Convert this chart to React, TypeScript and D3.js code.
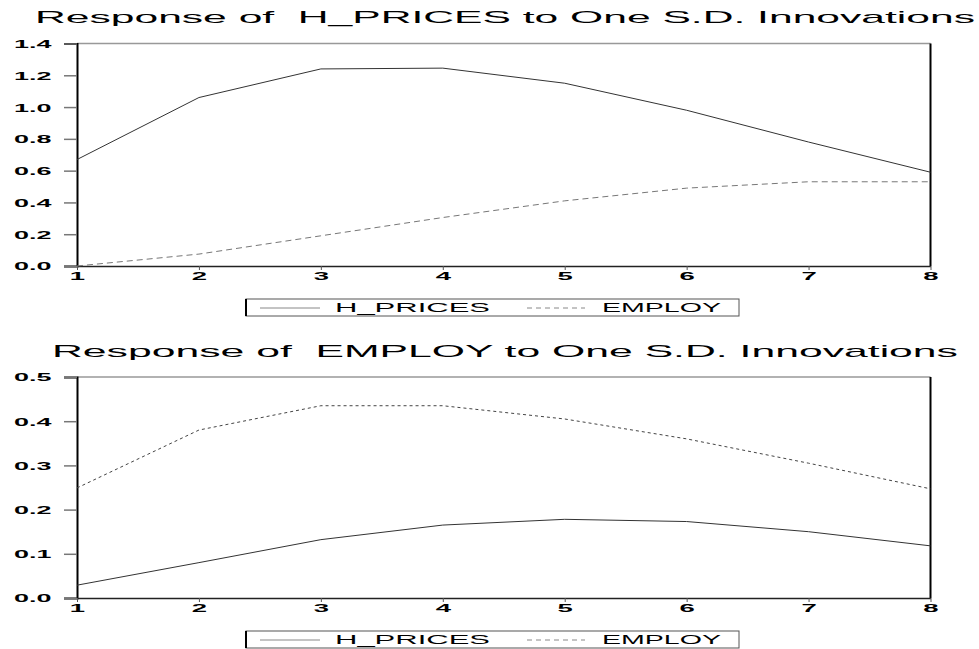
import React, { useEffect, useRef } from 'react';
import * as d3 from 'd3';

// periods
const periods = [1, 2, 3, 4, 5, 6, 7, 8];

// Response of H_PRICES
const hpHprices = [0.67, 1.06, 1.24, 1.245, 1.15, 0.98, 0.78, 0.59];
const hpEmploy = [0.0, 0.075, 0.19, 0.305, 0.41, 0.49, 0.53, 0.53];
const hpTicks = [0.0, 0.2, 0.4, 0.6, 0.8, 1.0, 1.2, 1.4];

// Response of EMPLOY
const emHprices = [0.029, 0.08, 0.132, 0.165, 0.178, 0.173, 0.15, 0.118];
const emEmploy = [0.249, 0.38, 0.435, 0.435, 0.405, 0.36, 0.305, 0.247];
const emTicks = [0.0, 0.1, 0.2, 0.3, 0.4, 0.5];

const seriesNames = ['H_PRICES', 'EMPLOY'];

const FONT = '"Liberation Sans", Arial, sans-serif';

const panels = [
  {
    title: 'Response of  H_PRICES to One S.D. Innovations',
    titleX: 35, titleLen: 940, titleY: 23,
    top: 43.5, bottom: 266, max: 1.4, ticks: hpTicks,
    hp: hpHprices, em: hpEmploy, legendY: 299,
    empDash: '6,4', empColor: '#777'
  },
  {
    title: 'Response of  EMPLOY to One S.D. Innovations',
    titleX: 52, titleLen: 906, titleY: 357,
    top: 377, bottom: 598, max: 0.5, ticks: emTicks,
    hp: emHprices, em: emEmploy, legendY: 631,
    empDash: '3,3', empColor: '#444'
  }
];

const App = () => {
  const ref = useRef<SVGSVGElement>(null);

  useEffect(() => {
    const svg = d3.select(ref.current);
    svg.selectAll('*').remove();
    const left = 77, right = 930.5;

    panels.forEach((p) => {
      const x = d3.scaleLinear().domain([1, 8]).range([left, right]);
      const y = d3.scaleLinear().domain([0, p.max]).range([p.bottom, p.top]);

      svg.append('text')
        .attr('x', p.titleX).attr('y', p.titleY)
        .attr('textLength', p.titleLen)
        .attr('lengthAdjust', 'spacingAndGlyphs')
        .style('white-space', 'pre')
        .style('font-family', FONT).style('font-size', '17px')
        .text(p.title);

      // frame
      svg.append('line').attr('x1', left).attr('x2', right).attr('y1', p.top).attr('y2', p.top)
        .attr('stroke', '#999').attr('stroke-width', 1.5);
      svg.append('line').attr('x1', right).attr('x2', right).attr('y1', p.top).attr('y2', p.bottom)
        .attr('stroke', '#000').attr('stroke-width', 2);

      const yAxis = svg.append('g')
        .attr('transform', `translate(${left},0)`)
        .call(d3.axisLeft(y).tickValues(p.ticks).tickSize(13).tickFormat(d3.format('.1f')));
      yAxis.select('.domain').attr('stroke', '#000').attr('stroke-width', 2);
      yAxis.selectAll('.tick line').attr('stroke', '#777').attr('stroke-width', 1.5);
      yAxis.selectAll('.tick text')
        .attr('x', -10.4).attr('dy', '0.36em')
        .attr('transform', 'scale(2.45,1)')
        .style('font-family', FONT).style('font-size', '11px').style('font-weight', 'bold')
        .attr('fill', '#000');

      const xAxis = svg.append('g')
        .attr('transform', `translate(0,${p.bottom})`)
        .call(d3.axisBottom(x).tickValues(periods).tickSize(4).tickFormat(d3.format('d')).tickSizeOuter(0));
      xAxis.select('.domain').attr('stroke', '#222').attr('stroke-width', 1.5);
      xAxis.selectAll('.tick line').attr('stroke', '#555');
      xAxis.selectAll('.tick text')
        .attr('x', 0).attr('y', 6).attr('dy', '0.71em')
        .attr('transform', 'scale(2.5,1)')
        .style('font-family', FONT).style('font-size', '11px').style('font-weight', 'bold')
        .attr('fill', '#000');

      const line = d3.line<number>().x((_, i) => x(periods[i])).y((d) => y(d));

      svg.append('path').datum(p.em).attr('d', line)
        .attr('fill', 'none').attr('stroke', p.empColor).attr('stroke-width', 1)
        .attr('stroke-dasharray', p.empDash);
      svg.append('path').datum(p.hp).attr('d', line)
        .attr('fill', 'none').attr('stroke', '#333').attr('stroke-width', 1);

      // legend
      const ly = p.legendY;
      const lg = svg.append('g');
      lg.append('rect').attr('x', 246).attr('y', ly).attr('width', 493).attr('height', 17)
        .attr('fill', '#fff').attr('stroke', '#555').attr('stroke-width', 1);
      lg.append('line').attr('x1', 246).attr('x2', 246).attr('y1', ly).attr('y2', ly + 17)
        .attr('stroke', '#000').attr('stroke-width', 2);
      lg.append('line').attr('x1', 260).attr('x2', 320).attr('y1', ly + 9).attr('y2', ly + 9)
        .attr('stroke', '#888').attr('stroke-width', 1);
      lg.append('text').attr('x', 335).attr('y', ly + 13).attr('textLength', 155)
        .attr('lengthAdjust', 'spacingAndGlyphs')
        .style('font-family', FONT).style('font-size', '12.5px').text(seriesNames[0]);
      lg.append('line').attr('x1', 527).attr('x2', 585).attr('y1', ly + 9).attr('y2', ly + 9)
        .attr('stroke', '#888').attr('stroke-width', 1).attr('stroke-dasharray', '5,4');
      lg.append('text').attr('x', 602).attr('y', ly + 13).attr('textLength', 119)
        .attr('lengthAdjust', 'spacingAndGlyphs')
        .style('font-family', FONT).style('font-size', '12.5px').text(seriesNames[1]);
    });
  }, []);

  return (
    <svg ref={ref} width={979} height={649}
      style={{ position: 'absolute', left: 0, top: 0, background: '#fff' }} />
  );
};

export default App;
